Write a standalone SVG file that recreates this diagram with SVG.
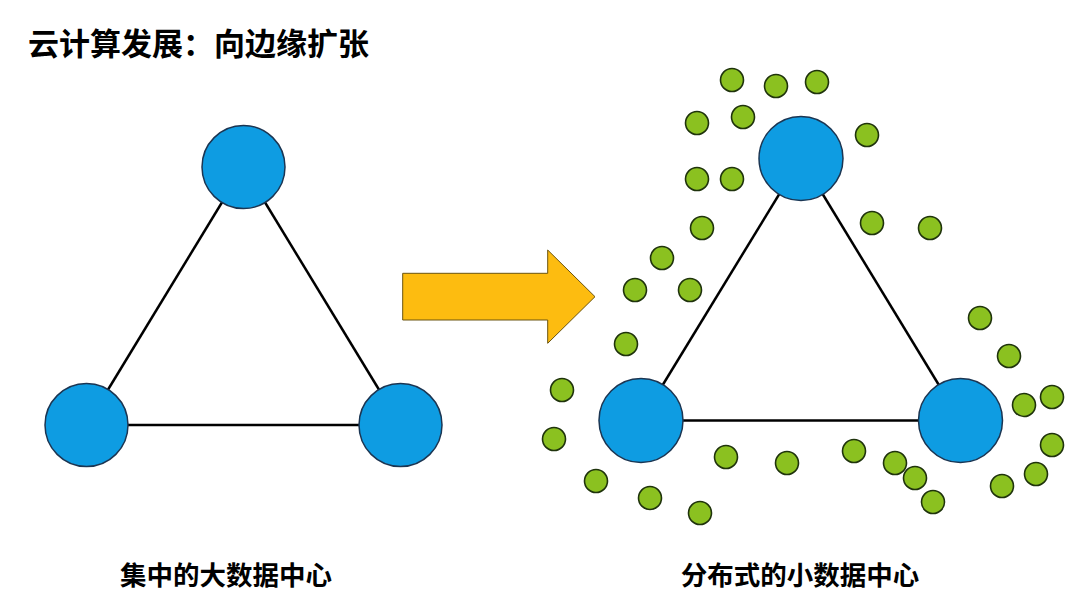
<svg xmlns="http://www.w3.org/2000/svg" width="1080" height="608" viewBox="0 0 1080 608">
<style>
.t{font-family:"Noto Sans CJK SC","Noto Sans",sans-serif;font-weight:700;fill:#000}
.edge{stroke:#000;stroke-width:2.5;fill:none}
.big{fill:#0E9CE2;stroke:#1B3552;stroke-width:1.5}
.dot{fill:#8BC120;stroke:#1F330C;stroke-width:1.6}
</style>
<rect width="1080" height="608" fill="#fff"/>
<text class="t" x="28" y="55" font-size="31">云计算发展：向边缘扩张</text>
<g id="connectors">
<line class="edge" x1="243.5" y1="167" x2="86.5" y2="425"/>
<line class="edge" x1="243.5" y1="167" x2="400.5" y2="425"/>
<line class="edge" x1="86.5" y1="425" x2="400.5" y2="425"/>
<line class="edge" x1="801" y1="158.5" x2="641" y2="420.5"/>
<line class="edge" x1="801" y1="158.5" x2="960.5" y2="420.5"/>
<line class="edge" x1="641" y1="420.5" x2="960.5" y2="420.5"/>
</g>
<g id="left-top"><circle class="big" cx="243.5" cy="167" r="41.5"/></g>
<g id="left-bl"><circle class="big" cx="86.5" cy="425" r="41.5"/></g>
<g id="left-br"><circle class="big" cx="400.5" cy="425" r="41.5"/></g>
<g id="arrow"><polygon points="402.7,273.3 547.7,273.3 547.7,250 595,296.7 547.7,343.3 547.7,320 402.7,320" fill="#FDBC10" stroke="#6B5410" stroke-width="1"/></g>
<g id="right-top"><circle class="big" cx="801" cy="158.5" r="42"/></g>
<g id="right-bl"><circle class="big" cx="641" cy="420.5" r="42"/></g>
<g id="right-br"><circle class="big" cx="960.5" cy="420.5" r="42"/></g>
<g id="small-dots">
<circle class="dot" cx="732" cy="80" r="11.5"/>
<circle class="dot" cx="776" cy="86" r="11.5"/>
<circle class="dot" cx="817" cy="82" r="11.5"/>
<circle class="dot" cx="743" cy="117" r="11.5"/>
<circle class="dot" cx="697" cy="123" r="11.5"/>
<circle class="dot" cx="867" cy="135" r="11.5"/>
<circle class="dot" cx="697" cy="179" r="11.5"/>
<circle class="dot" cx="732" cy="179" r="11.5"/>
<circle class="dot" cx="702" cy="228" r="11.5"/>
<circle class="dot" cx="872" cy="223" r="11.5"/>
<circle class="dot" cx="930" cy="228" r="11.5"/>
<circle class="dot" cx="662" cy="258" r="11.5"/>
<circle class="dot" cx="635" cy="290" r="11.5"/>
<circle class="dot" cx="690" cy="290" r="11.5"/>
<circle class="dot" cx="626" cy="344" r="11.5"/>
<circle class="dot" cx="980" cy="318" r="11.5"/>
<circle class="dot" cx="1009" cy="356" r="11.5"/>
<circle class="dot" cx="562" cy="390" r="11.5"/>
<circle class="dot" cx="554" cy="439" r="11.5"/>
<circle class="dot" cx="1024" cy="405" r="11.5"/>
<circle class="dot" cx="1052" cy="397" r="11.5"/>
<circle class="dot" cx="1052" cy="445" r="11.5"/>
<circle class="dot" cx="1036" cy="474" r="11.5"/>
<circle class="dot" cx="1002" cy="486" r="11.5"/>
<circle class="dot" cx="726" cy="457" r="11.5"/>
<circle class="dot" cx="787" cy="463" r="11.5"/>
<circle class="dot" cx="854" cy="451" r="11.5"/>
<circle class="dot" cx="895" cy="463" r="11.5"/>
<circle class="dot" cx="915" cy="478" r="11.5"/>
<circle class="dot" cx="933" cy="502" r="11.5"/>
<circle class="dot" cx="596" cy="481" r="11.5"/>
<circle class="dot" cx="650" cy="498" r="11.5"/>
<circle class="dot" cx="700" cy="513" r="11.5"/>
</g>
<text class="t" x="226" y="585" font-size="26.5" text-anchor="middle">集中的大数据中心</text>
<text class="t" x="800" y="585" font-size="26.5" text-anchor="middle">分布式的小数据中心</text>
</svg>
